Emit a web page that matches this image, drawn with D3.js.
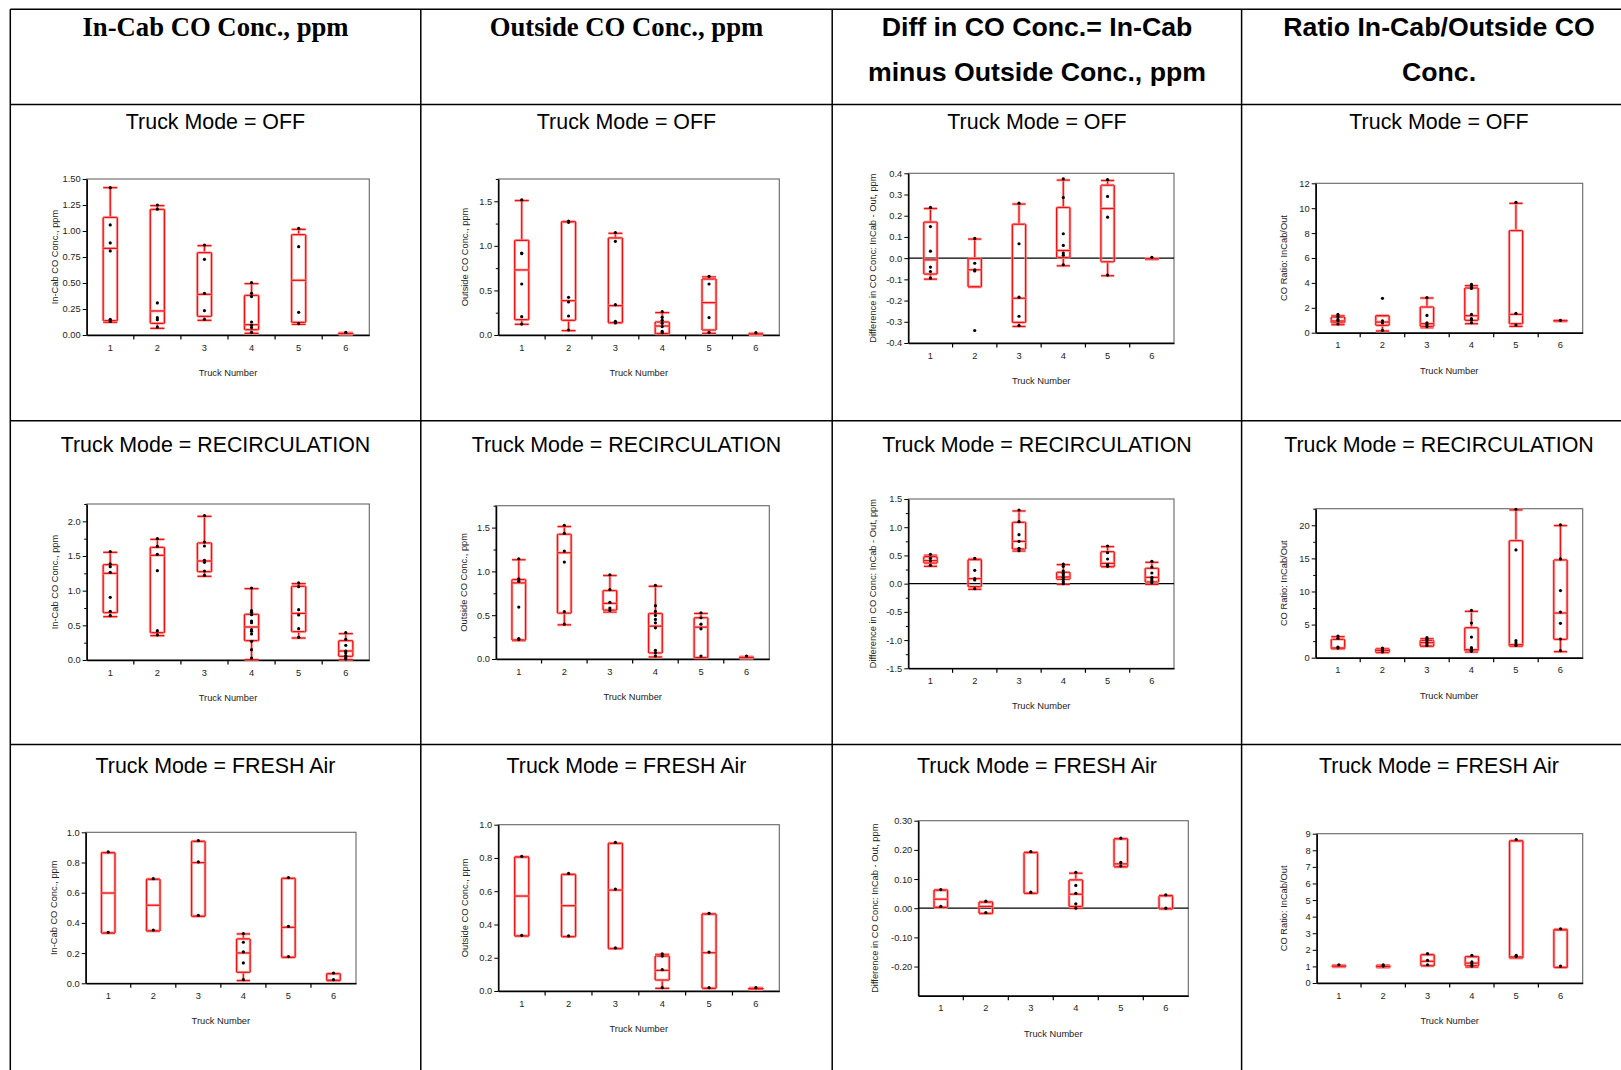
<!DOCTYPE html>
<html>
<head>
<meta charset="utf-8">
<script src="https://cdn.jsdelivr.net/npm/d3@7"></script>
<style>
  body { margin: 0; background: #fff; }
  svg { display: block; }
</style>
</head>
<body>
<svg id="chart" width="1621" height="1070"></svg>
<script>
// ---- Categories and labels ----
const truckNumbers = ["1", "2", "3", "4", "5", "6"];
const columnHeaders = [
  ["In-Cab CO Conc., ppm"],
  ["Outside CO Conc., ppm"],
  ["Diff in CO Conc.= In-Cab", "minus Outside Conc., ppm"],
  ["Ratio In-Cab/Outside CO", "Conc."]
];
const truckModes = ["OFF", "RECIRCULATION", "FRESH Air"];
const yAxisTitles = [
  "In-Cab CO Conc., ppm",
  "Outside CO Conc., ppm",
  "Difference in CO Conc: InCab - Out, ppm",
  "CO Ratio: InCab/Out"
];
const xAxisTitle = "Truck Number";

// ---- Y tick labels per panel (row-major: OFF, RECIRCULATION, FRESH) ----
const offInCabTicks     = ["0.00", "0.25", "0.50", "0.75", "1.00", "1.25", "1.50"];
const offOutsideTicks   = ["0.0", "0.5", "1.0", "1.5"];
const offDiffTicks      = ["-0.4", "-0.3", "-0.2", "-0.1", "0.0", "0.1", "0.2", "0.3", "0.4"];
const offRatioTicks     = ["0", "2", "4", "6", "8", "10", "12"];
const recInCabTicks     = ["0.0", "0.5", "1.0", "1.5", "2.0"];
const recOutsideTicks   = ["0.0", "0.5", "1.0", "1.5"];
const recDiffTicks      = ["-1.5", "-1.0", "-0.5", "0.0", "0.5", "1.0", "1.5"];
const recRatioTicks     = ["0", "5", "10", "15", "20"];
const freshInCabTicks   = ["0.0", "0.2", "0.4", "0.6", "0.8", "1.0"];
const freshOutsideTicks = ["0.0", "0.2", "0.4", "0.6", "0.8", "1.0"];
const freshDiffTicks    = ["-0.20", "-0.10", "0.00", "0.10", "0.20", "0.30"];
const freshRatioTicks   = ["0", "1", "2", "3", "4", "5", "6", "7", "8", "9"];

// Minor (unlabelled) tick values
const offOutsideMinor = [0.25, 0.75, 1.25, 1.75];
const recInCabMinor   = [0.25, 0.75, 1.25, 1.75, 2.25];
const recOutsideMinor = [0.25, 0.75, 1.25, 1.75];
const recDiffMinor    = [-1.25, -0.75, -0.25, 0.25, 0.75, 1.25];
const recRatioMinor   = [2.5, 7.5, 12.5, 17.5, 22.5];

// Y domains
const yDomains = [
  [0, 1.5], [0, 1.75], [-0.4, 0.4], [0, 12],
  [0, 2.25], [0, 1.75], [-1.5, 1.5], [0, 22.5],
  [0, 1], [0, 1], [-0.3, 0.3], [0, 9]
];

// ---- Box statistics per truck: [lower whisker, Q1, median, Q3, upper whisker] ----
const offInCabStats = [
  [0.122, 0.138, 0.833, 1.131, 1.417], [0.064, 0.112, 0.231, 1.208, 1.244],
  [0.141, 0.179, 0.391, 0.792, 0.859], [0.016, 0.051, 0.099, 0.381, 0.494],
  [0.103, 0.122, 0.526, 0.965, 1.016], [0.008, 0.010, 0.015, 0.018, 0.020]
];
const offInCabPoints = [
  [1.417, 1.058, 0.885, 0.808, 0.151, 0.131], [1.25, 1.21, 0.308, 0.167, 0.147, 0.077],
  [0.865, 0.728, 0.401, 0.234, 0.151], [0.503, 0.401, 0.369, 0.125, 0.093, 0.071, 0.026],
  [1.026, 0.849, 0.218, 0.109], [0.025]
];

const offOutsideStats = [
  [0.120, 0.172, 0.730, 1.062, 1.508], [0.049, 0.165, 0.385, 1.270, 1.272],
  [0.138, 0.138, 0.329, 1.089, 1.141], [0.015, 0.015, 0.101, 0.146, 0.251],
  [0.019, 0.056, 0.363, 0.628, 0.651], [0.005, 0.008, 0.012, 0.016, 0.019]
];
const offOutsidePoints = [
  [1.515, 0.920, 0.913, 0.572, 0.206, 0.123], [1.279, 1.264, 0.423, 0.370, 0.213, 0.056],
  [1.149, 1.051, 0.340, 0.153, 0.135], [0.262, 0.198, 0.165, 0.131, 0.094, 0.041, 0.026],
  [0.658, 0.572, 0.195, 0.030], [0.026]
];

const offDiffStats = [
  [-0.099, -0.075, -0.008, 0.170, 0.234], [-0.135, -0.135, -0.055, -0.002, 0.090],
  [-0.322, -0.303, -0.189, 0.160, 0.255], [-0.036, 0.003, 0.036, 0.239, 0.368],
  [-0.083, -0.017, 0.234, 0.344, 0.366], [-0.005, -0.004, -0.003, -0.002, -0.001]
];
const offDiffPoints = [
  [0.239, 0.149, 0.033, -0.042, -0.063, -0.094], [0.093, -0.024, -0.055, -0.060, -0.341],
  [0.259, 0.068, -0.184, -0.274, -0.318], [0.374, 0.286, 0.115, 0.060, 0.024, 0.014, -0.031],
  [0.370, 0.291, 0.193, -0.080], [0.004]
];

const offRatioStats = [
  [0.643, 0.804, 0.938, 1.259, 1.366], [0.134, 0.589, 0.857, 1.366, 1.366],
  [0.402, 0.509, 0.723, 2.063, 2.786], [0.723, 0.991, 1.366, 3.589, 3.777],
  [0.509, 0.723, 1.473, 8.20, 10.39], [0.92, 0.94, 0.96, 0.97, 0.99]
];
const offRatioPoints = [
  [1.47, 1.29, 1.07, 0.96, 0.70], [2.76, 0.96, 0.78, 0.19],
  [2.81, 1.39, 0.80, 0.64, 0.48], [3.88, 3.70, 3.56, 1.47, 1.13, 1.02, 0.80],
  [10.47, 1.55, 0.62], [0.99]
];

const recInCabStats = [
  [0.625, 0.683, 1.250, 1.375, 1.553], [0.351, 0.394, 1.510, 1.625, 1.740],
  [1.207, 1.274, 1.428, 1.688, 2.072], [0.005, 0.279, 0.476, 0.659, 1.029],
  [0.317, 0.409, 0.673, 1.063, 1.101], [0.005, 0.053, 0.130, 0.279, 0.380]
];
const recInCabPoints = [
  [1.563, 1.385, 1.346, 1.264, 0.904, 0.702, 0.639], [1.75, 1.639, 1.524, 1.288, 0.423, 0.361],
  [2.082, 1.702, 1.644, 1.438, 1.409, 1.284, 1.221],
  [1.038, 0.712, 0.688, 0.654, 0.5625, 0.538, 0.4375, 0.413, 0.375, 0.269, 0.149, 0.029],
  [1.111, 1.058, 0.726, 0.649, 0.452, 0.327],
  [0.394, 0.298, 0.212, 0.130, 0.101, 0.0625, 0.034, 0.014]
];

const recOutsideStats = [
  [0.210, 0.218, 0.869, 0.907, 1.133], [0.390, 0.524, 1.213, 1.424, 1.512],
  [0.536, 0.559, 0.635, 0.781, 0.953], [0.023, 0.069, 0.375, 0.520, 0.830],
  [0.015, 0.015, 0.364, 0.471, 0.520], [0.010, 0.012, 0.018, 0.022, 0.025]
];
const recOutsidePoints = [
  [1.144, 0.915, 0.888, 0.593, 0.233, 0.222], [1.527, 1.435, 1.232, 1.106, 0.540, 0.398],
  [0.961, 0.792, 0.647, 0.582, 0.555],
  [0.842, 0.609, 0.543, 0.4975, 0.452, 0.413, 0.356, 0.0995, 0.0727, 0.034],
  [0.528, 0.471, 0.398, 0.344, 0.034], [0.034]
];

const recDiffStats = [
  [0.307, 0.366, 0.408, 0.478, 0.502], [-0.100, -0.053, 0.089, 0.425, 0.437],
  [0.579, 0.614, 0.750, 1.087, 1.288], [-0.012, 0.077, 0.118, 0.201, 0.337],
  [0.301, 0.301, 0.360, 0.567, 0.656], [-0.012, 0.030, 0.112, 0.272, 0.378]
];
const recDiffPoints = [
  [0.520, 0.449, 0.402, 0.325], [0.449, 0.236, 0.089, 0.065, -0.089],
  [1.305, 1.099, 0.868, 0.750, 0.626, 0.585],
  [0.348, 0.307, 0.224, 0.183, 0.154, 0.112, 0.077, 0.035, 0.0],
  [0.667, 0.549, 0.437, 0.337, 0.307], [0.396, 0.295, 0.189, 0.112, 0.083, 0.053, 0.018]
];

const recRatioStats = [
  [1.36, 1.36, 1.46, 2.77, 3.17], [0.76, 0.81, 1.11, 1.31, 1.36],
  [1.71, 1.76, 2.27, 2.62, 2.87], [0.86, 1.06, 1.21, 4.53, 7.00],
  [1.76, 1.76, 1.96, 17.68, 22.32], [0.91, 2.77, 6.75, 14.76, 19.95]
];
const recRatioPoints = [
  [3.27, 2.92, 1.61, 1.46], [1.46, 1.21, 1.01, 0.86],
  [3.02, 2.77, 2.42, 2.12, 1.86], [7.15, 5.24, 3.12, 1.51, 1.31, 1.11, 0.96],
  [22.42, 16.27, 2.57, 2.22, 1.86], [20.05, 14.91, 10.13, 6.90, 5.19, 2.82, 1.06]
];

const freshInCabStats = [
  [0.333, 0.333, 0.598, 0.865, 0.865], [0.347, 0.347, 0.517, 0.689, 0.689],
  [0.444, 0.444, 0.799, 0.940, 0.940], [0.018, 0.073, 0.201, 0.294, 0.327],
  [0.172, 0.172, 0.371, 0.695, 0.695], [0.018, 0.018, 0.020, 0.064, 0.064]
];
const freshInCabPoints = [
  [0.870, 0.338], [0.693, 0.353], [0.945, 0.804, 0.450],
  [0.329, 0.272, 0.208, 0.135, 0.024], [0.700, 0.377, 0.177], [0.068, 0.024]
];

const freshOutsideStats = [
  [0.331, 0.331, 0.571, 0.806, 0.806], [0.327, 0.327, 0.513, 0.701, 0.701],
  [0.255, 0.255, 0.607, 0.888, 0.888], [0.016, 0.066, 0.124, 0.210, 0.220],
  [0.016, 0.016, 0.230, 0.463, 0.463], [0.010, 0.010, 0.014, 0.018, 0.018]
];
const freshOutsidePoints = [
  [0.810, 0.335], [0.707, 0.331], [0.894, 0.613, 0.259],
  [0.224, 0.210, 0.128, 0.020], [0.467, 0.234, 0.020], [0.020]
];

const freshDiffStats = [
  [0.003, 0.003, 0.031, 0.062, 0.062], [-0.018, -0.018, 0.006, 0.021, 0.021],
  [0.051, 0.051, 0.191, 0.191, 0.191], [0.0, 0.006, 0.048, 0.097, 0.120],
  [0.142, 0.142, 0.152, 0.238, 0.238], [-0.002, -0.002, 0.043, 0.043, 0.043]
];
const freshDiffPoints = [
  [0.064, 0.006], [0.024, -0.015], [0.194, 0.055],
  [0.123, 0.078, 0.051, 0.015, 0.0], [0.240, 0.157, 0.145], [0.046, 0.0]
];

const freshRatioStats = [
  [0.98, 0.98, 1.02, 1.06, 1.06], [0.94, 0.94, 1.00, 1.06, 1.06],
  [1.04, 1.04, 1.31, 1.71, 1.71], [0.96, 1.04, 1.20, 1.59, 1.59],
  [1.51, 1.51, 1.57, 8.57, 8.57], [0.94, 0.94, 3.20, 3.23, 3.23]
];
const freshRatioPoints = [
  [1.10], [1.10, 1.02], [1.77, 1.37, 1.10],
  [1.67, 1.27, 1.14, 1.02], [8.65, 1.67, 1.59], [3.27, 1.02]
];

// ---- Panel assembly ----
const panelStats = [
  offInCabStats, offOutsideStats, offDiffStats, offRatioStats,
  recInCabStats, recOutsideStats, recDiffStats, recRatioStats,
  freshInCabStats, freshOutsideStats, freshDiffStats, freshRatioStats
];
const panelPoints = [
  offInCabPoints, offOutsidePoints, offDiffPoints, offRatioPoints,
  recInCabPoints, recOutsidePoints, recDiffPoints, recRatioPoints,
  freshInCabPoints, freshOutsidePoints, freshDiffPoints, freshRatioPoints
];
const panelTicks = [
  offInCabTicks, offOutsideTicks, offDiffTicks, offRatioTicks,
  recInCabTicks, recOutsideTicks, recDiffTicks, recRatioTicks,
  freshInCabTicks, freshOutsideTicks, freshDiffTicks, freshRatioTicks
];
const panelMinor = [
  [], offOutsideMinor, [], [],
  recInCabMinor, recOutsideMinor, recDiffMinor, recRatioMinor,
  [], [], [], []
];

// ---- Layout (plot frames: left, top, right, bottom) ----
const panelFrames = [
  [86.7, 179, 369.3, 335], [498.3, 179, 779.3, 335], [908.3, 173.3, 1174, 343], [1315.7, 183.3, 1582.7, 332.7],
  [86.7, 504, 369.3, 660], [496, 505.7, 769.3, 659], [908.3, 499, 1174, 668.3], [1315.7, 508.7, 1582.7, 657.7],
  [85.7, 832.3, 356, 983.3], [498.3, 824.7, 779.3, 991], [918.3, 820.7, 1188.3, 995.7], [1316.7, 833.7, 1582.7, 983]
];
const yTitleOffsets = [32, 33, 35, 32, 32, 32, 35, 32, 32, 33, 43, 33];

const colEdges = [10.3, 420.8, 832.2, 1241.6];
const rowEdges = [9.3, 104.4, 420.8, 744.4];
const colCenters = [215.5, 626.5, 1037, 1439];
const subtitleY = [122, 444.5, 766];

const W = 1621, H = 1070;
const sans = "'Liberation Sans', Arial, Helvetica, sans-serif";
const serif = "'Liberation Serif', 'Times New Roman', serif";
const RED = "#ee1111";
const HALO = "#ff9c9c";

const svg = d3.select("#chart");

// ---- Table grid ----
const grid = svg.append("g").attr("stroke", "#000").attr("stroke-width", 1.5);
rowEdges.forEach(yy => grid.append("line").attr("x1", colEdges[0]).attr("x2", W).attr("y1", yy).attr("y2", yy));
colEdges.forEach(xx => grid.append("line").attr("x1", xx).attr("x2", xx).attr("y1", rowEdges[0]).attr("y2", H));

// ---- Column headers ----
columnHeaders.forEach((lines, c) => {
  lines.forEach((txt, k) => {
    svg.append("text")
      .attr("x", colCenters[c]).attr("y", 27 + k * 45)
      .attr("text-anchor", "middle").attr("dominant-baseline", "central")
      .attr("font-family", c < 2 ? serif : sans)
      .attr("font-weight", "bold")
      .attr("font-size", 26.7)
      .attr("fill", "#000")
      .text(txt);
  });
});

// ---- Mode subtitles ----
truckModes.forEach((mode, r) => {
  colCenters.forEach(cx => {
    svg.append("text")
      .attr("x", cx).attr("y", subtitleY[r])
      .attr("text-anchor", "middle").attr("dominant-baseline", "central")
      .attr("font-family", sans).attr("font-size", 21.4).attr("fill", "#000")
      .text("Truck Mode = " + mode);
  });
});

// ---- Box-plot panels ----
function drawSeg(g, x1, y1, x2, y2) {
  g.append("line").attr("x1", x1).attr("y1", y1).attr("x2", x2).attr("y2", y2)
    .attr("stroke", HALO).attr("stroke-width", 3).attr("stroke-opacity", 0.7);
  g.append("line").attr("x1", x1).attr("y1", y1).attr("x2", x2).attr("y2", y2)
    .attr("stroke", RED).attr("stroke-width", 1.3);
}

panelStats.forEach((stats, i) => {
  const c = i % 4;
  const [L, T, R, B] = panelFrames[i];
  const g = svg.append("g");

  const x = d3.scaleBand().domain(truckNumbers).range([L, R]);
  const y = d3.scaleLinear().domain(yDomains[i]).range([B, T]);

  // frame
  g.append("rect").attr("x", L).attr("y", T).attr("width", R - L).attr("height", B - T)
    .attr("fill", "none").attr("stroke", "#666").attr("stroke-width", 1.1);

  // zero reference line for difference plots
  if (yDomains[i][0] < 0) {
    g.append("line").attr("x1", L).attr("x2", R).attr("y1", y(0)).attr("y2", y(0))
      .attr("stroke", "#000").attr("stroke-width", 1.2);
  }

  // y axis (major)
  const labels = panelTicks[i];
  const yAxis = d3.axisLeft(y)
    .tickValues(labels.map(Number))
    .tickFormat((d, j) => labels[j])
    .tickSize(4).tickSizeOuter(0).tickPadding(2);
  const ya = g.append("g").attr("transform", `translate(${L},0)`).call(yAxis);
  ya.attr("font-family", sans).attr("font-size", 9.3);
  ya.select(".domain").attr("stroke", "#000").attr("stroke-width", 1.5);
  ya.selectAll(".tick line").attr("stroke", "#000");
  ya.selectAll(".tick text").attr("fill", "#222");

  // y axis (minor)
  if (panelMinor[i].length) {
    const ym = d3.axisLeft(y).tickValues(panelMinor[i]).tickFormat("").tickSize(2.5).tickSizeOuter(0);
    const ymg = g.append("g").attr("transform", `translate(${L},0)`).call(ym);
    ymg.select(".domain").remove();
    ymg.selectAll(".tick line").attr("stroke", "#000");
  }

  // x axis: labels centred on bands, ticks at band boundaries
  const xAxis = d3.axisBottom(x).tickSize(0).tickSizeOuter(0).tickPadding(9);
  const xa = g.append("g").attr("transform", `translate(0,${B})`).call(xAxis);
  xa.attr("font-family", sans).attr("font-size", 9.3);
  xa.select(".domain").attr("stroke", "#000").attr("stroke-width", 1.5);
  xa.selectAll(".tick text").attr("fill", "#222");
  truckNumbers.slice(1).forEach(t => {
    g.append("line").attr("x1", x(t)).attr("x2", x(t)).attr("y1", B).attr("y2", B + 4.5)
      .attr("stroke", "#000").attr("stroke-width", 1.2);
  });

  // axis titles
  g.append("text")
    .attr("x", (L + R) / 2).attr("y", B + 38)
    .attr("text-anchor", "middle").attr("dominant-baseline", "central")
    .attr("font-family", sans).attr("font-size", 9.3).attr("fill", "#222")
    .text(xAxisTitle);
  g.append("text")
    .attr("transform", `translate(${L - yTitleOffsets[i]},${(T + B) / 2}) rotate(-90)`)
    .attr("text-anchor", "middle").attr("dominant-baseline", "central")
    .attr("font-family", sans).attr("font-size", 9.3).attr("fill", "#222")
    .text(yAxisTitles[c]);

  // boxes
  const bw = x.bandwidth() * 0.3;
  stats.forEach((s, j) => {
    const t = truckNumbers[j];
    const cx = x(t) + x.bandwidth() / 2;
    const [lo, q1, med, q3, hi] = s;
    const bg = g.append("g");
    drawSeg(bg, cx, y(hi), cx, y(q3));
    drawSeg(bg, cx, y(q1), cx, y(lo));
    drawSeg(bg, cx - bw / 2, y(hi), cx + bw / 2, y(hi));
    drawSeg(bg, cx - bw / 2, y(lo), cx + bw / 2, y(lo));
    drawSeg(bg, cx - bw / 2, y(q3), cx + bw / 2, y(q3));
    drawSeg(bg, cx - bw / 2, y(q1), cx + bw / 2, y(q1));
    drawSeg(bg, cx - bw / 2, y(q3), cx - bw / 2, y(q1));
    drawSeg(bg, cx + bw / 2, y(q3), cx + bw / 2, y(q1));
    drawSeg(bg, cx - bw / 2, y(med), cx + bw / 2, y(med));

    // observations
    bg.selectAll("circle.obs").data(panelPoints[i][j]).enter().append("circle")
      .attr("class", "obs")
      .attr("cx", cx).attr("cy", d => y(d)).attr("r", 1.6)
      .attr("fill", "#000");
  });
});
</script>
</body>
</html>
